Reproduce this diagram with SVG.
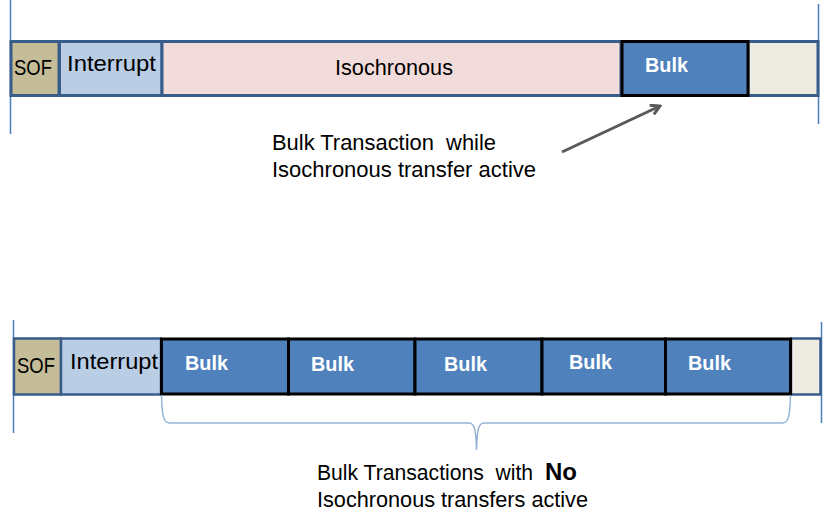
<svg xmlns="http://www.w3.org/2000/svg" width="823" height="529" viewBox="0 0 823 529">
<defs>
<style>
.seg{stroke:#385d8a;stroke-width:3}
.seg2{stroke:#385d8a;stroke-width:2.5}
.bulk{fill:#4f81bd;stroke:#000;stroke-width:3}
.t{font-family:"Liberation Sans",Arial,sans-serif;font-size:22px;fill:#000}
.b{font-family:"Liberation Sans",Arial,sans-serif;font-size:21px;font-weight:bold;fill:#fff}
.vl{stroke:#4a7ebb;stroke-width:1.5}
</style>
<marker id="ah" markerWidth="12" markerHeight="12" refX="9" refY="6" orient="auto" markerUnits="userSpaceOnUse">
<path d="M1,1 L10,6 L1,11" fill="none" stroke="#595959" stroke-width="3" stroke-linejoin="miter"/>
</marker>
</defs>
<rect width="823" height="529" fill="#fff"/>
<g id="guides">
<line class="vl" x1="10.5" y1="0" x2="10.5" y2="134"/>
<line class="vl" x1="818.5" y1="4" x2="818.5" y2="124"/>
<line class="vl" x1="13.5" y1="320" x2="13.5" y2="433"/>
<line class="vl" x1="821.5" y1="322" x2="821.5" y2="423"/>
</g>
<g id="top-bar">
<g id="top-sof"><rect class="seg" x="11" y="41.5" width="48" height="54" fill="#c4bd97"/><text class="t" x="14" y="75" textLength="38" lengthAdjust="spacingAndGlyphs">SOF</text></g>
<g id="top-interrupt"><rect class="seg" x="59.5" y="41.5" width="102.5" height="54" fill="#b9cde5"/><text class="t" x="67" y="71" textLength="89" lengthAdjust="spacingAndGlyphs">Interrupt</text></g>
<g id="top-iso"><rect class="seg" x="162" y="41.5" width="459" height="54" fill="#f2dcdb"/><text class="t" x="335" y="75" textLength="118" lengthAdjust="spacingAndGlyphs">Isochronous</text></g>
<g id="top-end"><rect class="seg" x="748" y="41.5" width="70" height="54" fill="#eeece1"/></g>
<g id="top-bulk"><rect class="bulk" x="622" y="41.5" width="126" height="54"/><text class="b" x="645" y="72" textLength="43" lengthAdjust="spacingAndGlyphs">Bulk</text></g>
</g>
<g id="bottom-bar">
<g id="bot-sof"><rect class="seg2" x="14" y="338.5" width="47" height="56" fill="#c4bd97"/><text class="t" x="17" y="373" textLength="38" lengthAdjust="spacingAndGlyphs">SOF</text></g>
<g id="bot-interrupt"><rect class="seg2" x="61" y="338.5" width="100" height="56" fill="#b9cde5"/><text class="t" x="70" y="369" textLength="88" lengthAdjust="spacingAndGlyphs">Interrupt</text></g>
<g id="bot-end"><rect class="seg2" x="791" y="338.5" width="29.5" height="56" fill="#eeece1"/></g>
<g id="bulk1"><rect class="bulk" x="161.5" y="339" width="127" height="55"/><text class="b" x="185" y="370" textLength="43" lengthAdjust="spacingAndGlyphs">Bulk</text></g>
<g id="bulk2"><rect class="bulk" x="288.5" y="339" width="126.5" height="55"/><text class="b" x="311" y="371" textLength="43" lengthAdjust="spacingAndGlyphs">Bulk</text></g>
<g id="bulk3"><rect class="bulk" x="415" y="339" width="127" height="55"/><text class="b" x="444" y="371" textLength="43" lengthAdjust="spacingAndGlyphs">Bulk</text></g>
<g id="bulk4"><rect class="bulk" x="542" y="339" width="123.5" height="55"/><text class="b" x="569" y="369" textLength="43" lengthAdjust="spacingAndGlyphs">Bulk</text></g>
<g id="bulk5"><rect class="bulk" x="665.5" y="339" width="125" height="55"/><text class="b" x="688" y="370" textLength="43" lengthAdjust="spacingAndGlyphs">Bulk</text></g>
</g>
<g id="connectors">
<line x1="562" y1="152" x2="659" y2="106.5" stroke="#595959" stroke-width="3" marker-end="url(#ah)"/>
<path d="M161.5,395 C162,418 164,423 170,423 L469,423 C474.5,423 476,430 476.5,450 C477,430 478.5,423 484,423 L782,423 C788,423 790,418 790.5,395" fill="none" stroke="#95b3d7" stroke-width="1.5"/>
</g>
<g id="label-top">
<text class="t" x="272" y="150" textLength="224" lengthAdjust="spacingAndGlyphs" xml:space="preserve">Bulk Transaction  while</text>
<text class="t" x="272" y="177" textLength="264" lengthAdjust="spacingAndGlyphs">Isochronous transfer active</text>
</g>
<g id="label-bottom">
<text class="t" x="317" y="480"><tspan textLength="222" lengthAdjust="spacingAndGlyphs" xml:space="preserve">Bulk Transactions  with </tspan><tspan font-weight="bold" font-size="24" x="545" textLength="32" lengthAdjust="spacingAndGlyphs">No</tspan></text>
<text class="t" x="317" y="507" textLength="271" lengthAdjust="spacingAndGlyphs">Isochronous transfers active</text>
</g>
</svg>
